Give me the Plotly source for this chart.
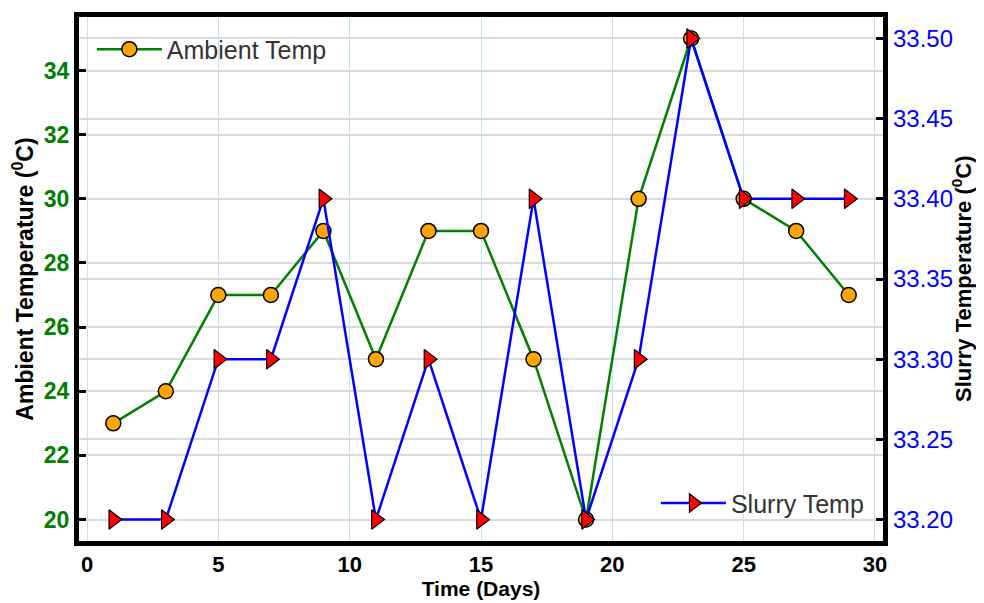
import plotly.graph_objects as go

days = [1, 3, 5, 7, 9, 11, 13, 15, 17, 19, 21, 23, 25, 27, 29]
ambient_temp = [23, 24, 27, 27, 29, 25, 29, 29, 25, 20, 30, 35, 30, 29, 27]
slurry_temp = [33.20, 33.20, 33.30, 33.30, 33.40, 33.20, 33.30, 33.20, 33.40,
               33.20, 33.30, 33.50, 33.40, 33.40, 33.40]
left_ticks = [20, 22, 24, 26, 28, 30, 32, 34]
right_ticks = [33.20, 33.25, 33.30, 33.35, 33.40, 33.45, 33.50]
x_ticks = [0, 5, 10, 15, 20, 25, 30]

fig = go.Figure()
fig.add_trace(go.Scatter(
    x=days, y=ambient_temp, name="Ambient Temp", mode="lines+markers",
    line=dict(color="green", width=2.5),
    marker=dict(symbol="circle", size=15, color="orange",
                line=dict(color="black", width=1.5)),
    legend="legend", showlegend=True))
fig.add_trace(go.Scatter(
    x=days, y=slurry_temp, name="Slurry Temp", mode="lines+markers",
    line=dict(color="blue", width=2.5),
    marker=dict(symbol="triangle-right", size=17, color="red",
                line=dict(color="black", width=1.2)),
    yaxis="y2", legend="legend2", showlegend=True))

fig.update_layout(
    width=984, height=603,
    showlegend=True,
    margin=dict(l=71, r=109, t=8.5, b=69.5),
    plot_bgcolor="white", paper_bgcolor="white",
    font=dict(family="Liberation Sans, Arial, sans-serif"),
    xaxis=dict(
        range=[-0.305, 30.305], tickvals=x_ticks, automargin=False,
        showgrid=True, gridcolor="#bfe3ef", gridwidth=1,
        showline=True, linecolor="black", linewidth=5, mirror=True,
        ticks="", zeroline=False,
        tickfont=dict(size=22, color="black", weight="bold"),
        title=dict(text="<b>Time (Days)</b>", font=dict(size=21, color="black"), standoff=6),
    ),
    yaxis=dict(
        range=[19.33, 35.67], tickvals=left_ticks, automargin=False,
        showgrid=True, gridcolor="#dadada", gridwidth=2,
        showline=True, linecolor="black", linewidth=5, mirror=True,
        ticks="inside", ticklen=7, tickwidth=3, tickcolor="black",
        zeroline=False,
        tickfont=dict(size=23, color="green", weight="bold"),
        title=dict(text="<b>Ambient Temperature (<sup>0</sup>C)</b>",
                   font=dict(size=23, color="black"), standoff=8),
    ),
    yaxis2=dict(
        range=[33.1866, 33.5134], tickvals=right_ticks, automargin=False,
        tickformat=".2f", overlaying="y", side="right",
        showgrid=True, gridcolor="#dadada", gridwidth=2,
        showline=False,
        ticks="inside", ticklen=7, tickwidth=3, tickcolor="black",
        zeroline=False, ticklabelstandoff=9,
        tickfont=dict(size=24, color="blue"),
    ),
    legend=dict(x=0.016, y=0.982, xanchor="left", yanchor="top", itemwidth=65,
                bgcolor="rgba(255,255,255,0)", font=dict(size=25, color="#333333")),
    legend2=dict(x=0.9825, y=0.028, xanchor="right", yanchor="bottom", itemwidth=65,
                 bgcolor="rgba(255,255,255,0)", font=dict(size=25, color="#333333")),
    annotations=[dict(
        text="<b>Slurry Temperature (<sup>0</sup>C)</b>",
        x=1, y=0.5, xref="paper", yref="paper", xanchor="center", yanchor="middle",
        xshift=79, textangle=-90, showarrow=False,
        font=dict(size=22, color="black"))],
)

fig.write_html("out.html")
